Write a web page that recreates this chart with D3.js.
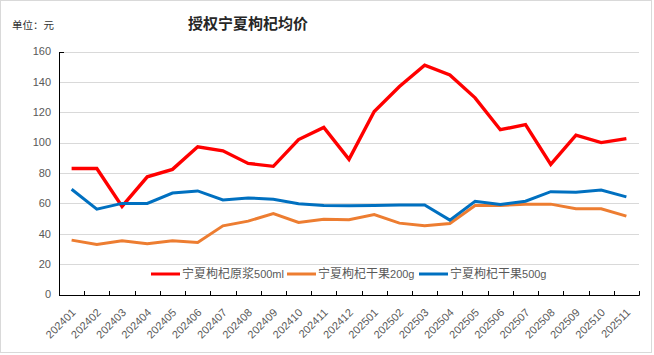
<!DOCTYPE html>
<html>
<head>
<meta charset="utf-8">
<script src="https://cdn.jsdelivr.net/npm/d3@7/dist/d3.min.js"></script>
<style>
  html, body { margin: 0; padding: 0; background: #fff; }
  svg { display: block; }
</style>
</head>
<body>
<svg id="chart" width="654" height="355"></svg>
<script>
const categories = ["202401","202402","202403","202404","202405","202406","202407","202408","202409","202410","202411","202412","202501","202502","202503","202504","202505","202506","202507","202508","202509","202510","202511"];
const seriesNames = ["宁夏枸杞原浆500ml", "宁夏枸杞干果200g", "宁夏枸杞干果500g"];
const yuanjiang500 = [83, 83, 58, 77.5, 82.4, 97.3, 94.6, 86.3, 84.4, 102, 110, 89, 120.5, 137, 151, 144.5, 129.5, 108.5, 111.8, 85.7, 104.9, 100, 102.6];
const ganguo200 = [35.8, 33, 35.4, 33.4, 35.4, 34.3, 45.2, 48.3, 53.3, 47.4, 49.6, 49.3, 52.6, 47, 45.2, 46.8, 58.6, 58.6, 59.5, 59.5, 56.4, 56.4, 51.6];
const ganguo500 = [69.3, 56.2, 60, 60, 66.8, 68.2, 62.3, 63.6, 62.7, 59.7, 58.6, 58.5, 58.6, 58.9, 58.9, 49, 61.4, 59.3, 61.4, 67.7, 67.4, 68.8, 64.3];
const yTicks = [0, 20, 40, 60, 80, 100, 120, 140, 160];
const title = "授权宁夏枸杞均价";
const unitLabel = "单位：元";

const colors = ["#FF0000", "#ED7D31", "#0070C0"];
const seriesData = [yuanjiang500, ganguo200, ganguo500];

const svg = d3.select("#chart");
const W = 654, H = 355;
const L = 59, R = 639, T = 51.5, B = 294.5;
const font = "'Liberation Sans', 'Noto Sans CJK SC', sans-serif";
const textColor = "#595959";

// frame
svg.append("rect").attr("x", 0.5).attr("y", 0.5).attr("width", W - 3).attr("height", H - 3)
  .attr("fill", "#fff").attr("stroke", "#d9d9d9").attr("stroke-width", 1);

const x = d3.scaleBand().domain(categories).range([L, R]).padding(0);
const y = d3.scaleLinear().domain([0, 160]).range([B, T]);

// gridlines
svg.append("g").selectAll("line").data(yTicks.filter(d => d > 0)).join("line")
  .attr("x1", L).attr("x2", R)
  .attr("y1", d => Math.round(y(d)) + 0.5).attr("y2", d => Math.round(y(d)) + 0.5)
  .attr("stroke", "#d9d9d9").attr("stroke-width", 1);

// y tick labels
svg.append("g").selectAll("text").data(yTicks).join("text")
  .attr("x", 51).attr("y", d => y(d)).attr("dy", "0.35em")
  .attr("text-anchor", "end")
  .attr("font-family", font).attr("font-size", 11).attr("fill", textColor)
  .text(d => d);

// y axis line
svg.append("line").attr("x1", L + 0.5).attr("x2", L + 0.5).attr("y1", Math.round(y(160))).attr("y2", B + 0.5)
  .attr("stroke", "#000").attr("stroke-width", 1);
svg.append("line").attr("x1", L).attr("x2", L + 5).attr("y1", Math.round(y(160)) + 0.5).attr("y2", Math.round(y(160)) + 0.5)
  .attr("stroke", "#000").attr("stroke-width", 1);

// x axis
svg.append("line").attr("x1", L).attr("x2", R + 0.5).attr("y1", Math.round(B) + 0.5).attr("y2", Math.round(B) + 0.5)
  .attr("stroke", "#000").attr("stroke-width", 1);
const boundaries = categories.map(c => x(c)).concat([R]).slice(1);
svg.append("g").selectAll("line").data(boundaries).join("line")
  .attr("x1", d => Math.round(d) + 0.5).attr("x2", d => Math.round(d) + 0.5)
  .attr("y1", Math.round(B) + 0.5).attr("y2", Math.round(B) - 4)
  .attr("stroke", "#000").attr("stroke-width", 1);

// x labels
svg.append("g").selectAll("text").data(categories).join("text")
  .attr("transform", d => `translate(${x(d) + x.bandwidth() / 2 + 2},${B + 16}) rotate(-45)`)
  .attr("text-anchor", "end").attr("dy", "0.35em")
  .attr("font-family", font).attr("font-size", 11).attr("fill", textColor)
  .text(d => d);

// lines
const line = d3.line().x((d, i) => x(categories[i]) + x.bandwidth() / 2).y(d => y(d));
seriesData.forEach((s, k) => {
  svg.append("path").datum(s).attr("d", line)
    .attr("fill", "none").attr("stroke", colors[k]).attr("stroke-width", k === 0 ? 3.4 : 3)
    .attr("stroke-linejoin", "miter").attr("stroke-linecap", "butt");
});

// legend
const legendY = 274;
const legendItems = [
  { x: 151, name: seriesNames[0] },
  { x: 287, name: seriesNames[1] },
  { x: 419, name: seriesNames[2] }
];
legendItems.forEach((it, k) => {
  svg.append("line").attr("x1", it.x).attr("x2", it.x + 29).attr("y1", legendY).attr("y2", legendY)
    .attr("stroke", colors[k]).attr("stroke-width", 3);
  const m = it.name.match(/^([^\d]+)(.*)$/);
  const t = svg.append("text").attr("x", it.x + 31).attr("y", legendY).attr("dy", "0.36em")
    .attr("font-family", font).attr("font-size", 12).attr("fill", textColor);
  t.append("tspan").attr("font-family", "'Noto Sans CJK SC', sans-serif").text(m[1]);
  t.append("tspan").attr("font-size", 11).text(m[2]);
});

// title
svg.append("text").attr("x", 248).attr("y", 24).attr("dy", "0.35em")
  .attr("text-anchor", "middle")
  .attr("font-family", "'Noto Sans CJK SC', sans-serif").attr("font-weight", "bold")
  .attr("font-size", 15).attr("fill", "#262626")
  .text(title);

// unit label
svg.append("text").attr("x", 12).attr("y", 25).attr("dy", "0.35em")
  .attr("font-family", "'Noto Sans CJK SC', sans-serif").attr("font-size", 10.5).attr("fill", "#333")
  .text(unitLabel);
</script>
</body>
</html>
